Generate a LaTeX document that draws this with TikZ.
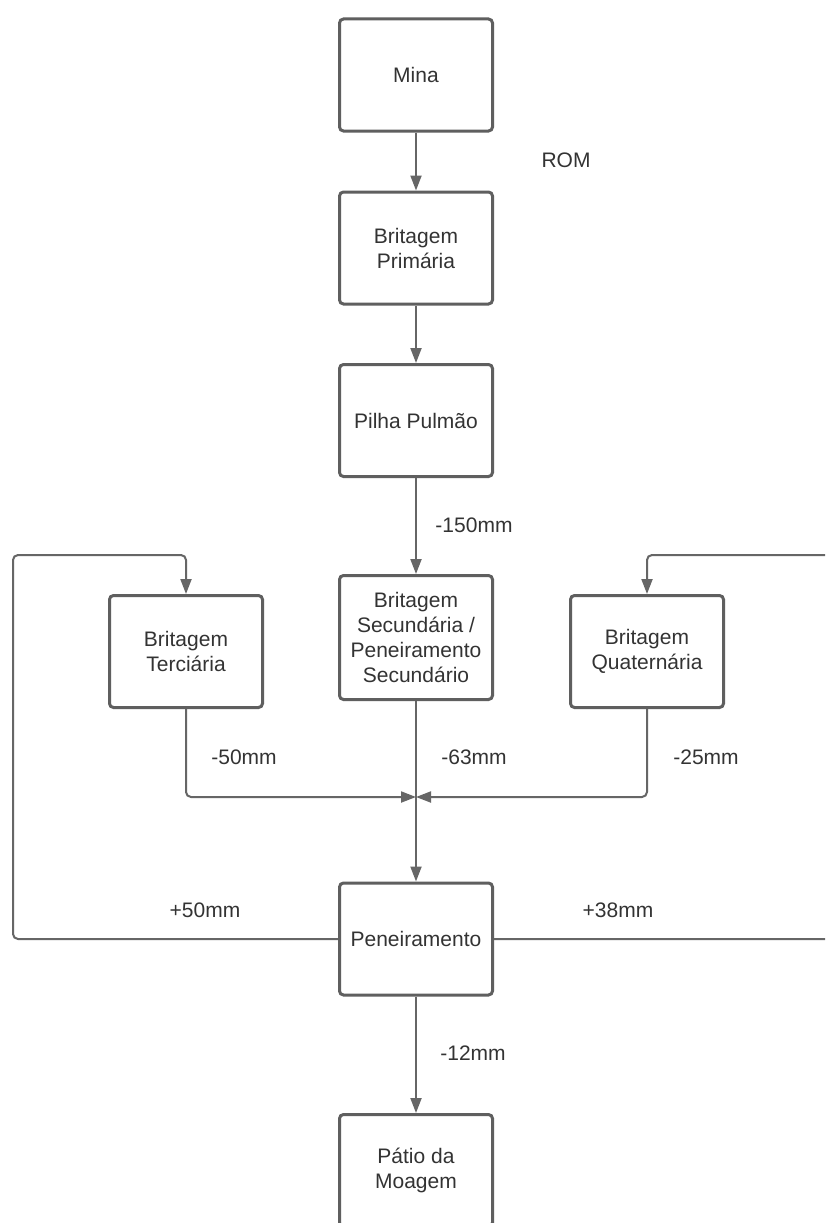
\documentclass[tikz,border=0pt]{standalone}
\usepackage{fontspec}
\setmainfont{Liberation Sans}
\usetikzlibrary{arrows.meta}
\definecolor{boxline}{HTML}{5F5F5F}
\definecolor{conn}{HTML}{666666}
\definecolor{txt}{HTML}{333333}
\tikzset{
  stage/.style={rectangle, rounded corners=4pt, draw=boxline, line width=3pt,
    minimum width=153pt, minimum height=112pt, align=center, text=txt,
    font=\fontsize{21}{25}\selectfont, inner sep=2pt},
  lbl/.style={text=txt, font=\fontsize{21}{25}\selectfont, inner sep=0pt},
  flow/.style={draw=conn, line width=2pt, rounded corners=5pt,
    -{Triangle[length=15pt,width=11pt]}},
}
\begin{document}
\begin{tikzpicture}[x=1pt,y=-1pt]
\useasboundingbox (0,0) rectangle (825,1223);
\clip (0,0) rectangle (825,1223);
\fill[white] (0,0) rectangle (825,1223);

\node[stage] (mina) at (416,75) {Mina};
\node[stage] (prim) at (416,248) {Britagem\\Primária};
\node[stage] (pilha) at (416,420.5) {Pilha Pulmão};
\node[stage, minimum height=124pt] (sec) at (416,637.5) {Britagem\\Secundária /\\Peneiramento\\Secundário};
\node[stage] (terc) at (186,651.5) {Britagem\\Terciária};
\node[stage] (quat) at (647,651.5) {Britagem\\Quaternária};
\node[stage] (pen) at (416,939) {Peneiramento};
\node[stage] (patio) at (416,1170.5) {Pátio da\\Moagem};

\coordinate (conv) at (416,797);
\coordinate (lt) at (13,555);
\coordinate (rt) at (835,555);

\node[lbl] (rom) at (566,160) {ROM};
\node[lbl] (l150) at (474,525) {-150mm};
\node[lbl] (l50) at (244,757) {-50mm};
\node[lbl] (l63) at (474,757) {-63mm};
\node[lbl] (l25) at (706,757) {-25mm};
\node[lbl] (p50) at (205,910) {+50mm};
\node[lbl] (p38) at (618,910) {+38mm};
\node[lbl] (l12) at (473,1053) {-12mm};

\draw[flow] (mina.south) -- (prim.north);
\draw[flow] (prim.south) -- (pilha.north);
\draw[flow] (pilha.south) -- (sec.north);
\draw[flow] (sec.south) -- (pen.north);
\draw[flow] (terc.south) |- (conv);
\draw[flow] (quat.south) |- (conv);
\draw[flow] (pen.west) -| (lt) -| (terc.north);
\draw[flow] (pen.east) -| (rt) -| (quat.north);
\draw[flow] (pen.south) -- (patio.north);
\end{tikzpicture}
\end{document}
